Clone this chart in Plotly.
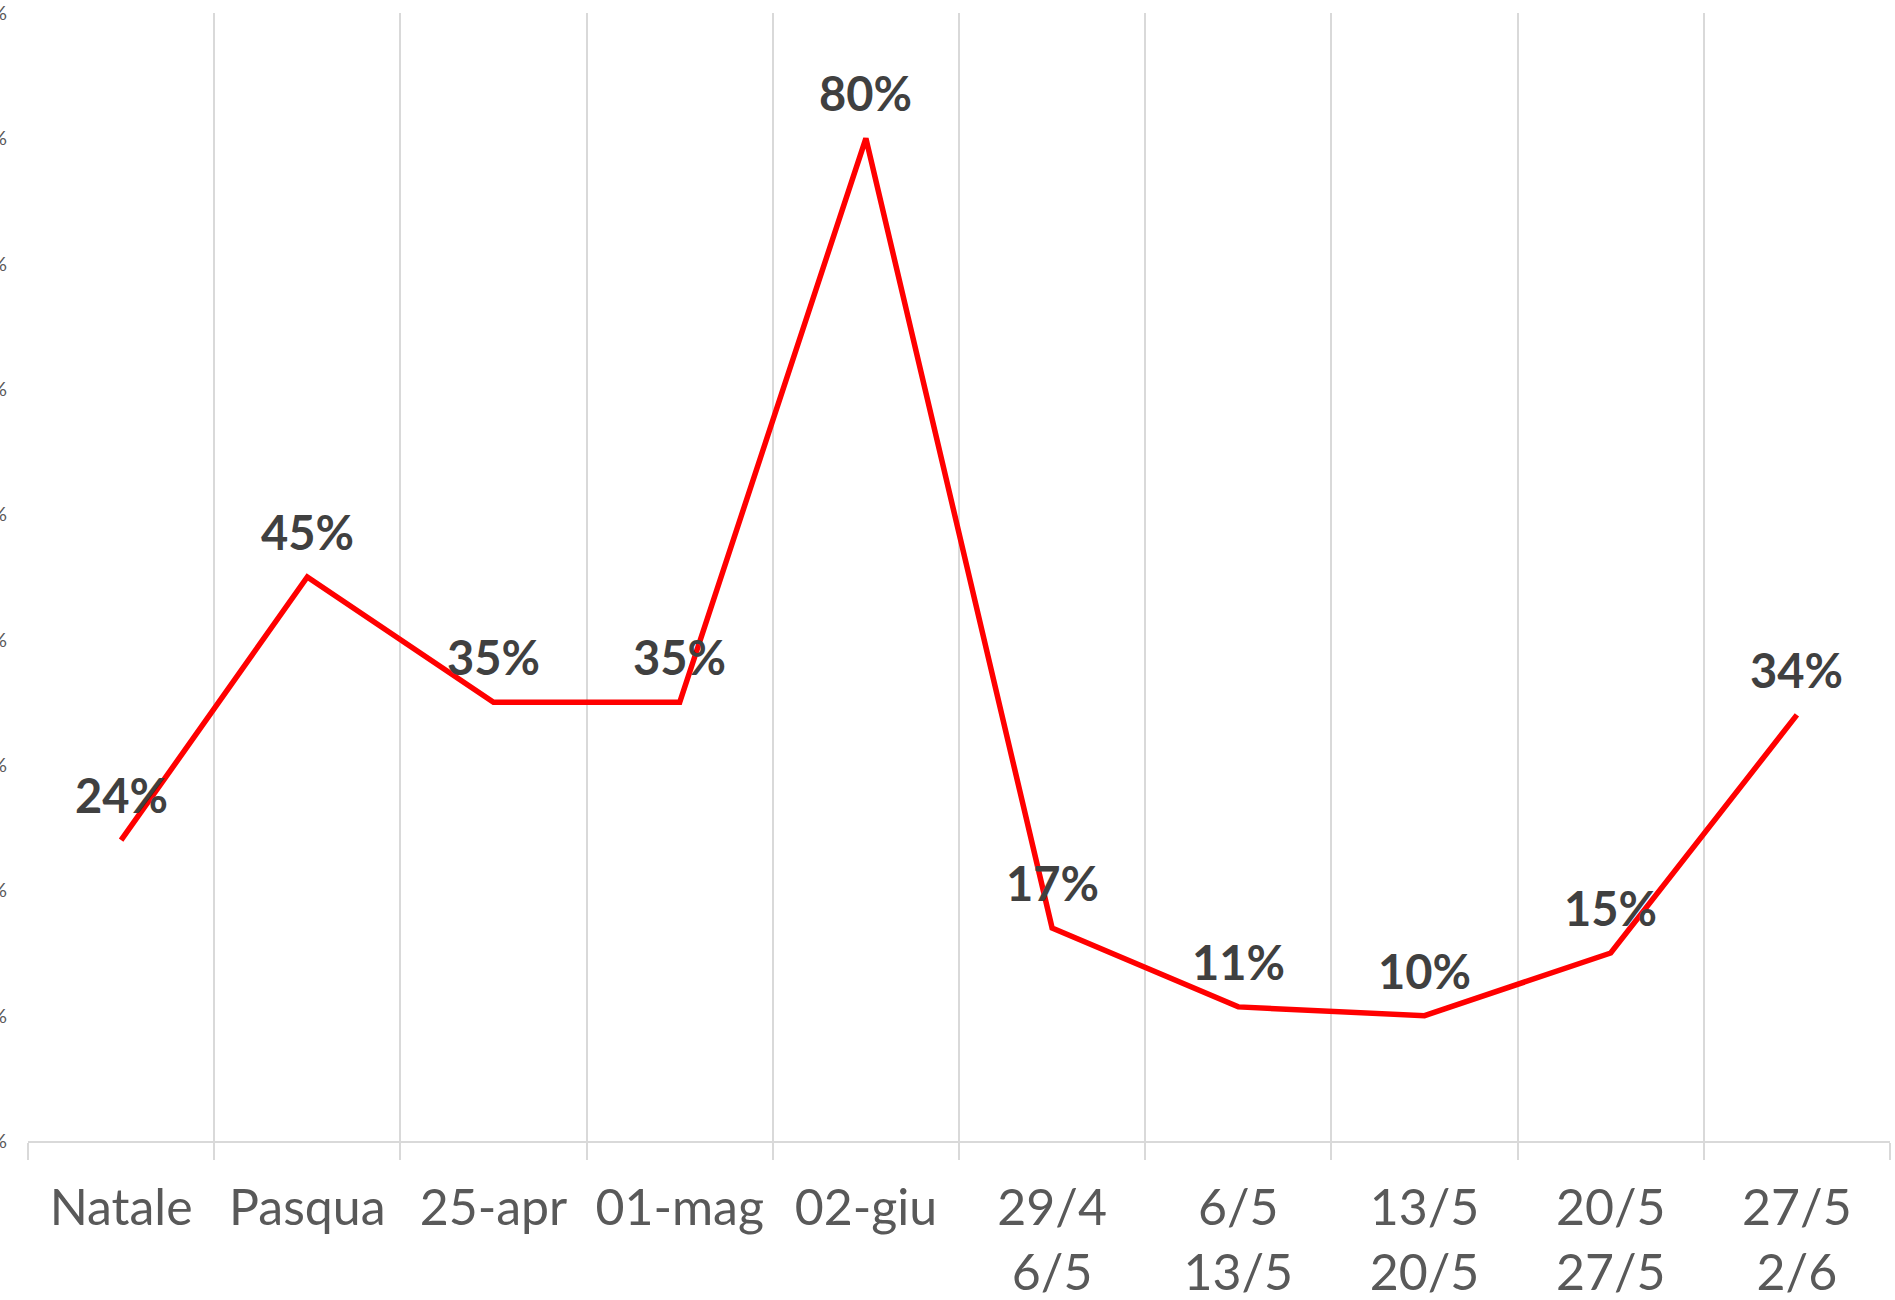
import plotly.graph_objects as go

categories = ["Natale", "Pasqua", "25-apr", "01-mag", "02-giu",
              "29/4<br>6/5", "6/5<br>13/5", "13/5<br>20/5", "20/5<br>27/5", "27/5<br>2/6"]
values = [0.24, 0.45, 0.35, 0.35, 0.80, 0.17, 0.107, 0.10, 0.15, 0.34]

GRID = "#D9D9D9"
TXT = "#404040"
TICK = "#595959"
FONT = "Lato"

fig = go.Figure()
fig.add_trace(go.Scatter(
    x=categories, y=values,
    mode="lines",
    line=dict(color="#FF0000", width=5.5),
    hoverinfo="skip",
))

for c, v in zip(categories, values):
    fig.add_annotation(
        x=c, y=v, text=f"{v:.0%}", showarrow=False,
        xanchor="center", yanchor="middle", yshift=45,
        font=dict(family=FONT, size=47, color=TXT, weight="bold"),
    )

fig.update_layout(
    width=1895, height=1300,
    margin=dict(l=28, r=5, t=13, b=159, autoexpand=False),
    plot_bgcolor="white", paper_bgcolor="white",
    showlegend=False,
    font=dict(family=FONT, color=TICK),
)
fig.update_xaxes(
    type="category",
    range=[-0.5, len(categories) - 0.5],
    tickson="boundaries",
    ticks="outside", ticklen=17, tickcolor=GRID, tickwidth=2,
    showgrid=True, gridcolor=GRID, gridwidth=2,
    showline=True, linecolor=GRID, linewidth=2,
    tickfont=dict(family=FONT, size=50, color=TICK),
    ticklabelstandoff=22,
    automargin=False,
)
fig.update_yaxes(
    range=[0, 0.9], dtick=0.1, tickformat=".0%",
    showgrid=False, zeroline=False, showline=False,
    tickfont=dict(family=FONT, size=20, color=TICK),
    ticklabelstandoff=20,
    automargin=False,
)

fig.write_html("out.html", config={"displayModeBar": False},
               post_script="document.body.style.margin='0';document.body.style.overflow='hidden';")
